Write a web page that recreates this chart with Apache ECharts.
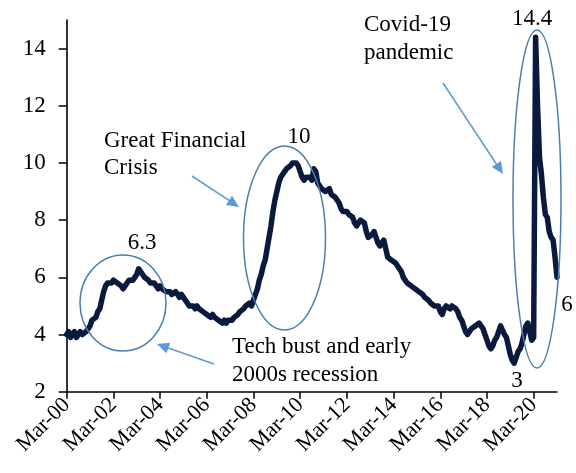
<!DOCTYPE html>
<html><head><meta charset="utf-8">
<script src="https://cdn.jsdelivr.net/npm/echarts@6/dist/echarts.min.js"></script>
<style>html,body{margin:0;padding:0;background:#fff}#c{width:576px;height:473px}</style>
</head><body><div id="c"></div>
<script>
// ---- data ----
const startYear = 2000, startMonth = 3;           // first observation: Mar-2000
const yTicks = [2, 4, 6, 8, 10, 12, 14];
const xTickEvery = 24;                             // one label every 24 months (Mar-00, Mar-02, ...)
// monthly rate, Mar-2000 .. Mar-2021
const rate2000 = [4.0, 4.1, 3.9, 4.0, 4.1, 3.9, 4.0, 4.1, 4.0, 4.0];
const rate2001 = [4.1, 4.2, 4.3, 4.5, 4.5, 4.6, 4.8, 4.9, 5.2, 5.5, 5.7, 5.8];
const rate2002 = [5.8, 5.8, 5.9, 5.9, 5.8, 5.8, 5.7, 5.6, 5.7, 5.8, 5.9, 5.9];
const rate2003 = [5.9, 6.0, 6.1, 6.3, 6.2, 6.1, 6.0, 6.0, 5.9, 5.8, 5.8, 5.8];
const rate2004 = [5.7, 5.6, 5.7, 5.6, 5.6, 5.5, 5.5, 5.5, 5.4, 5.4, 5.5, 5.4];
const rate2005 = [5.3, 5.4, 5.3, 5.2, 5.1, 5.0, 5.0, 5.0, 4.9, 5.0, 4.9, 4.9];
const rate2006 = [4.8, 4.8, 4.7, 4.7, 4.6, 4.7, 4.6, 4.6, 4.5, 4.5, 4.4, 4.5];
const rate2007 = [4.4, 4.5, 4.5, 4.5, 4.6, 4.6, 4.7, 4.8, 4.8, 4.9, 5.0, 5.0];
const rate2008 = [5.1, 5.0, 5.2, 5.4, 5.6, 5.9, 6.1, 6.4, 6.6, 7.0, 7.4, 7.8];
const rate2009 = [8.3, 8.7, 9.0, 9.3, 9.5, 9.6, 9.6, 9.8, 9.8, 9.9, 10.0, 10.0];
const rate2010 = [10.0, 9.9, 9.7, 9.5, 9.4, 9.5, 9.5, 9.5, 9.4, 9.8, 9.7, 9.3];
const rate2011 = [9.2, 9.1, 9.1, 9.0, 9.0, 9.1, 8.9, 8.9, 8.8, 8.7, 8.6, 8.4];
const rate2012 = [8.3, 8.3, 8.3, 8.2, 8.2, 8.1, 7.9, 7.8, 7.9, 8.0, 8.0, 7.9];
const rate2013 = [7.6, 7.4, 7.4, 7.5, 7.6, 7.4, 7.2, 7.1, 7.2, 7.3, 7.0, 6.7];
const rate2014 = [6.7, 6.6, 6.6, 6.5, 6.5, 6.3, 6.2, 6.0, 5.9, 5.8, 5.8, 5.7];
const rate2015 = [5.7, 5.6, 5.6, 5.5, 5.5, 5.4, 5.3, 5.3, 5.2, 5.1, 5.1, 5.0];
const rate2016 = [5.0, 5.0, 4.8, 4.7, 4.9, 5.0, 5.0, 4.9, 5.0, 5.0, 4.9, 4.8];
const rate2017 = [4.6, 4.5, 4.3, 4.1, 4.0, 4.1, 4.2, 4.2, 4.3, 4.3, 4.4, 4.3];
const rate2018 = [4.2, 4.0, 3.8, 3.6, 3.5, 3.6, 3.8, 3.9, 4.1, 4.3, 4.3, 4.0];
const rate2019 = [3.9, 3.6, 3.3, 3.1, 3.0, 3.2, 3.4, 3.5, 3.7, 4.0, 4.3, 4.4];
const rate2020 = [4.1, 3.8, 3.9, 14.4, 12.0, 10.2, 9.6, 8.8, 8.2, 8.1, 7.6, 7.4];
const rate2021 = [7.3, 6.7, 6.0];
const annotations = [
  { text: '6.3' }, { text: '10' }, { text: '14.4' }, { text: '3' }, { text: '6' }
];

// ---- build ----
const rate = [].concat(rate2000, rate2001, rate2002, rate2003, rate2004, rate2005, rate2006,
  rate2007, rate2008, rate2009, rate2010, rate2011, rate2012, rate2013, rate2014, rate2015,
  rate2016, rate2017, rate2018, rate2019, rate2020, rate2021);
const monthNames = ['Jan','Feb','Mar','Apr','May','Jun','Jul','Aug','Sep','Oct','Nov','Dec'];
const categories = rate.map((_, i) => {
  const k = startMonth - 1 + i;
  return monthNames[k % 12] + '-' + String((startYear + Math.floor(k / 12)) % 100).padStart(2, '0');
});

const FONT = '"Liberation Serif", "Times New Roman", serif';
const ARROW = '#5b9bd5';
const RING = '#4a7eae';

function arrow(x1, y1, x2, y2) {
  const dx = x2 - x1, dy = y2 - y1, L = Math.sqrt(dx * dx + dy * dy);
  const ux = dx / L, uy = dy / L, hl = 12, hw = 5.5;
  const bx = x2 - ux * hl, by = y2 - uy * hl;
  return {
    type: 'group', z: 20, children: [
      { type: 'line', shape: { x1, y1, x2: bx, y2: by }, style: { stroke: ARROW, lineWidth: 1.5 } },
      { type: 'polygon', shape: { points: [[x2, y2], [bx - uy * hw, by + ux * hw], [bx + uy * hw, by - ux * hw]] },
        style: { fill: ARROW } }
    ]
  };
}
function ring(cx, cy, rx, ry) {
  return { type: 'ellipse', z: 20, shape: { cx, cy, rx, ry }, style: { fill: 'none', stroke: RING, lineWidth: 1.5 } };
}
function txt(s, x, y, align) {
  return { type: 'text', z: 21, x, y, style: { text: s, fill: '#000', font: '23px ' + FONT, textAlign: align || 'left', textVerticalAlign: 'middle' } };
}

const chart = echarts.init(document.getElementById('c'), null, { renderer: 'canvas' });
chart.setOption({
  animation: false,
  backgroundColor: '#fff',
  grid: { left: 66.7, right: 19, top: 20, bottom: 81.3, containLabel: false },
  xAxis: {
    type: 'category', data: categories, boundaryGap: false,
    axisLine: { lineStyle: { color: '#000', width: 1.6 } },
    axisTick: { interval: xTickEvery - 1, length: 7, lineStyle: { color: '#000', width: 1.5 } },
    axisLabel: { interval: xTickEvery - 1, rotate: 45, margin: 10, color: '#000', fontFamily: FONT, fontSize: 22 },
    splitLine: { show: false }
  },
  yAxis: {
    type: 'value', min: 2, max: 15,
    axisLine: { show: true, lineStyle: { color: '#000', width: 1.6 } },
    axisTick: { show: true, length: 8, customValues: yTicks, lineStyle: { color: '#000', width: 1.5 } },
    axisLabel: { customValues: yTicks, margin: 21, color: '#000', fontFamily: FONT, fontSize: 23 },
    splitLine: { show: false }
  },
  series: [{
    type: 'line', data: rate, showSymbol: false, symbol: 'none', z: 5,
    lineStyle: { color: '#0a1a3e', width: 5.5, join: 'round', cap: 'round' }
  }],
  graphic: [
    ring(123, 303, 43, 48),
    ring(284.5, 238, 41, 92),
    ring(537, 199, 24, 169),
    arrow(214, 364, 157, 344),
    arrow(192, 176, 239, 207),
    arrow(443, 83, 503, 174),
    txt(annotations[0].text, 142, 243, 'center'),
    txt(annotations[1].text, 299, 137, 'center'),
    txt(annotations[2].text, 532, 19, 'center'),
    txt(annotations[3].text, 517, 381, 'center'),
    txt(annotations[4].text, 567, 305, 'center'),
    txt('Great Financial', 104, 141),
    txt('Crisis', 104, 168),
    txt('Covid-19', 364, 25),
    txt('pandemic', 364, 53),
    txt('Tech bust and early', 232, 347),
    txt('2000s recession', 232, 375)
  ]
});
</script>
</body></html>
